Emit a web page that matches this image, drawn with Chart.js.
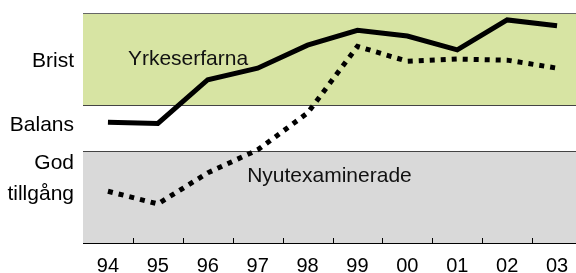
<!DOCTYPE html>
<html>
<head>
<meta charset="utf-8">
<script src="https://cdn.jsdelivr.net/npm/chart.js@4.4.0/dist/chart.umd.min.js"></script>
<style>
  html, body { margin: 0; padding: 0; overflow: hidden; background: #fff; }
  #wrap { width: 582px; height: 273px; }
</style>
</head>
<body>
<div id="wrap"><canvas id="chart"></canvas></div>
<script>
// data (0 = bottom, 10 = top of the plot)
const years = ['94', '95', '96', '97', '98', '99', '00', '01', '02', '03']
const yrkeserfarna = [5.25, 5.2, 7.1, 7.6, 8.6, 9.25, 9.0, 8.4, 9.7, 9.45]
const nyutexaminerade = [2.25, 1.7, 3.05, 4.05, 5.65, 8.55, 7.9, 8.0, 7.95, 7.6]
const levelLabels = ['Brist', 'Balans', ['God', 'tillgång']]
const levelValues = [7.9, 5.1, 2.8]
const bandLimits = [[6, 10], [4, 6], [0, 4]]

const FONT = '"Liberation Sans", Arial, sans-serif'
const bandColors = ['#d7e4a3', '#ffffff', '#d9d9d9']

const backdrop = {
    id: 'backdrop',
    beforeDatasetsDraw(chart) {
        const { ctx, chartArea: a, scales: { x, y } } = chart
        ctx.save()
        bandLimits.forEach(([lo, hi], i) => {
            const top = y.getPixelForValue(hi), bot = y.getPixelForValue(lo)
            ctx.fillStyle = bandColors[i]
            ctx.fillRect(a.left, top, a.right - a.left, bot - top)
        })
        ctx.strokeStyle = '#444'
        ctx.lineWidth = 1
        ;[6, 4].forEach(v => {
            const py = Math.round(y.getPixelForValue(v)) + 0.5
            ctx.beginPath(); ctx.moveTo(a.left, py); ctx.lineTo(a.right, py); ctx.stroke()
        })
        ctx.strokeStyle = '#666'
        ctx.beginPath(); ctx.moveTo(a.left, a.top + 0.5); ctx.lineTo(a.right, a.top + 0.5); ctx.stroke()
        // small inward ticks between the years
        ctx.strokeStyle = '#000'
        const half = (x.getPixelForValue(1) - x.getPixelForValue(0)) / 2
        for (let i = 0; i < years.length - 1; i++) {
            const px = Math.round(x.getPixelForValue(i) + half) + 0.5
            ctx.beginPath(); ctx.moveTo(px, a.bottom); ctx.lineTo(px, a.bottom - 5); ctx.stroke()
        }
        ctx.restore()
    },
    afterDatasetsDraw(chart) {
        const { ctx, scales: { x, y } } = chart
        ctx.save()
        ctx.fillStyle = '#111'
        ctx.font = '21px ' + FONT
        ctx.textBaseline = 'alphabetic'
        ctx.fillText('Yrkeserfarna', x.getPixelForValue(0.4), y.getPixelForValue(7.75))
        ctx.fillText('Nyutexaminerade', x.getPixelForValue(2.79), y.getPixelForValue(2.67))
        ctx.restore()
    }
}

new Chart(document.getElementById('chart'), {
    type: 'line',
    data: {
        labels: years,
        datasets: [
            {
                label: 'Yrkeserfarna',
                data: yrkeserfarna,
                borderColor: '#000',
                borderWidth: 5,
                pointRadius: 0,
                tension: 0
            },
            {
                label: 'Nyutexaminerade',
                data: nyutexaminerade,
                borderColor: '#000',
                borderWidth: 5,
                borderDash: [5, 6],
                borderCapStyle: 'butt',
                pointRadius: 0,
                tension: 0
            }
        ]
    },
    options: {
        responsive: true,
        maintainAspectRatio: false,
        animation: false,
        layout: { padding: { top: 13, right: 0, left: 0, bottom: 0 } },
        plugins: { legend: { display: false }, tooltip: { enabled: false } },
        scales: {
            x: {
                offset: true,
                grid: { display: false },
                border: { color: '#000', width: 1 },
                ticks: { color: '#000', padding: 3, font: { family: FONT, size: 20 }, maxRotation: 0, autoSkip: false },
                afterFit: s => { s.height = 30; s.paddingLeft = 0; s.paddingRight = 0 }
            },
            y: {
                min: 0,
                max: 10,
                grid: { display: false, drawTicks: false },
                border: { color: '#000', width: 1 },
                afterBuildTicks: s => { s.ticks = levelValues.map(v => ({ value: v })) },
                ticks: {
                    color: '#000',
                    padding: 9,
                    font: { family: FONT, size: 21, lineHeight: 1.5 },
                    callback: (v, i) => levelLabels[i]
                },
                afterFit: s => { s.width = 83; s.paddingTop = 0; s.paddingBottom = 0 }
            }
        }
    },
    plugins: [backdrop]
})
</script>
</body>
</html>
